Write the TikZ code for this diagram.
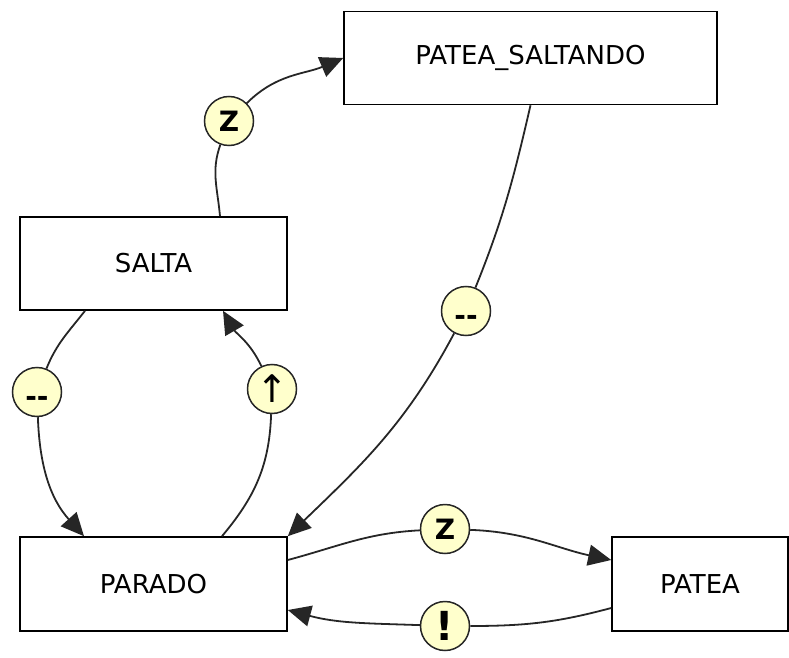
\documentclass[tikz,border=0pt]{standalone}
\usepackage{fontspec}
\setmainfont{DejaVu Sans}
\usetikzlibrary{arrows.meta}
\definecolor{lblfill}{HTML}{FFFFCC}
\begin{document}
\begin{tikzpicture}[x=1pt,y=1pt,
  state/.style={draw=black, line width=1.6pt, fill=white, minimum height=93pt, inner sep=0pt,
    font=\fontsize{26}{30}\selectfont},
  lab/.style={circle, draw=black!85, line width=1.5pt, fill=lblfill, minimum size=49pt, inner sep=0pt,
    font=\fontsize{28}{30}\selectfont\bfseries},
  tr/.style={line width=1.8pt, draw=black!85},
  arr/.style={tr, -{Triangle[length=23pt,width=21pt]}}]
\useasboundingbox (0,0) rectangle (789,657);
% states
\node[state, minimum width=373pt] (ps) at (530.5,599) {PATEA\_SALTANDO};
\node[state, minimum width=267pt] (salta) at (153.5,393.5) {SALTA};
\node[state, minimum width=267pt, minimum height=94pt] (parado) at (153.5,73) {PARADO};
\node[state, minimum width=176pt, minimum height=94pt] (patea) at (700,73) {PATEA};
% labels
\node[lab] (zA) at (229,536) {Z};
\node[lab] (dR) at (466,346) {\raisebox{-14pt}[0pt][0pt]{-{}-}};
\node[lab] (dL) at (37,265) {\raisebox{-14pt}[0pt][0pt]{-{}-}};
\node[lab, font=\fontsize{38}{38}\selectfont] (up) at (272,268) {↑};
\node[lab] (zB) at (445,128) {Z};
\node[lab, font=\fontsize{40}{40}\selectfont\bfseries] (ex) at (445,31) {!};
% anchor points
\coordinate (s1) at ([xshift=66.5pt]salta.north);
\coordinate (s3) at ([xshift=-68.5pt]salta.south);
\coordinate (p3) at ([xshift=-69.5pt]parado.north);
\coordinate (p4) at ([xshift=68.5pt]parado.north);
\coordinate (s4) at ([xshift=69.5pt]salta.south);
\coordinate (p5) at ([yshift=24pt]parado.east);
\coordinate (t5) at ([yshift=24pt]patea.west);
\coordinate (t6) at ([yshift=-24pt]patea.west);
\coordinate (p6) at ([yshift=-26pt]parado.east);
% edges
\draw[tr] (s1) to[out=95,in=-110] (zA);
\draw[arr] (zA) to[out=45,in=203] (ps.west);
\draw[tr] (ps.south) to[out=-103,in=68] (dR);
\draw[arr] (dR) to[out=-118,in=44] (parado.north east);
\draw[tr] (s3) to[out=-128,in=68] (dL);
\draw[arr] (dL) to[out=-88,in=132] (p3);
\draw[tr] (p4) to[out=50,in=-92] (up);
\draw[arr] (up) to[out=115,in=-60] (s4);
\draw[tr] (p5) to[out=15,in=183] (zB);
\draw[arr] (zB) to[out=-2,in=168] (t5);
\draw[tr] (t6) to[out=195,in=0] (ex);
\draw[arr] (ex) to[out=178,in=-15] (p6);
\end{tikzpicture}
\end{document}
